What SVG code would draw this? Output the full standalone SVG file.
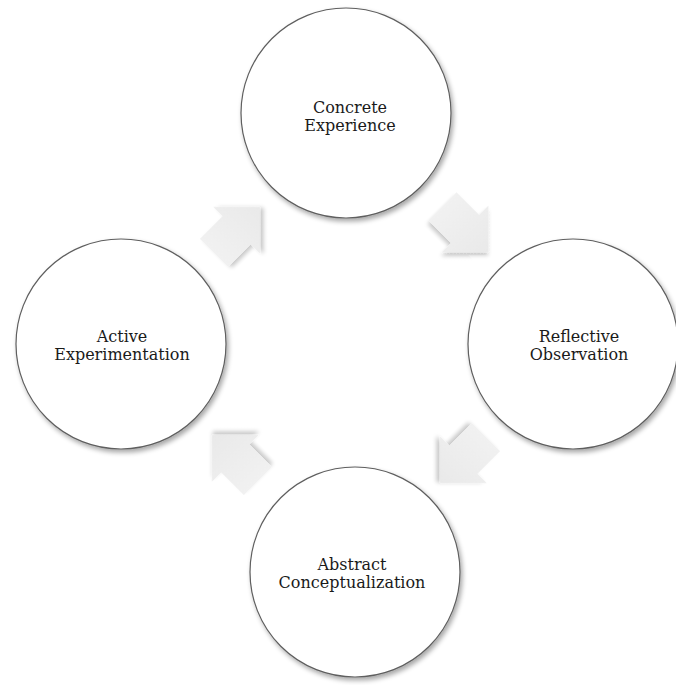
<svg xmlns="http://www.w3.org/2000/svg" width="676" height="685" viewBox="0 0 676 685">
<style>
.node circle{fill:#ffffff;stroke:#5e5e5e;stroke-width:1.2;filter:url(#sh)}
.node text{font-family:"DejaVu Serif","Liberation Serif",serif;font-size:16px;fill:#1a1a1a;text-anchor:middle}
.arr{fill:url(#ag);filter:url(#ash)}
</style>
<defs>
<filter id="sh" x="-20%" y="-20%" width="140%" height="140%">
<feGaussianBlur in="SourceAlpha" stdDeviation="2.5"/>
<feOffset dx="2" dy="3" result="b"/>
<feComponentTransfer><feFuncA type="linear" slope="0.35"/></feComponentTransfer>
<feMerge><feMergeNode/><feMergeNode in="SourceGraphic"/></feMerge>
</filter>
<filter id="ash" x="-30%" y="-30%" width="160%" height="160%">
<feGaussianBlur in="SourceAlpha" stdDeviation="2"/>
<feOffset dx="1.5" dy="2.5" result="b"/>
<feComponentTransfer><feFuncA type="linear" slope="0.22"/></feComponentTransfer>
<feMerge><feMergeNode/><feMergeNode in="SourceGraphic"/></feMerge>
</filter>
<linearGradient id="ag" x1="0" y1="0" x2="1" y2="0">
<stop offset="0" stop-color="#f1f1f1"/>
<stop offset="1" stop-color="#e9e9e9"/>
</linearGradient>
<path id="arrow" d="M-32,-20 L0,-20 L0,-33 L33,0 L0,33 L0,20 L-32,20 Z"/>
</defs>
<rect width="676" height="685" fill="#ffffff"/>
<g id="connectors">
<use href="#arrow" class="arr" transform="translate(236.7,230.3) rotate(-45)"/>
<use href="#arrow" class="arr" transform="translate(465,229) rotate(45)"/>
<use href="#arrow" class="arr" transform="translate(463.3,459.7) rotate(135)"/>
<use href="#arrow" class="arr" transform="translate(235.3,458.3) rotate(225)"/>
</g>
<g id="concrete" class="node">
<circle cx="346" cy="113" r="105"/>
<text x="350" y="113">Concrete</text>
<text x="350" y="131">Experience</text>
</g>
<g id="reflective" class="node">
<circle cx="573" cy="344" r="105"/>
<text x="579" y="342">Reflective</text>
<text x="579" y="360">Observation</text>
</g>
<g id="abstract" class="node">
<circle cx="355" cy="572" r="105"/>
<text x="352" y="570">Abstract</text>
<text x="352" y="588">Conceptualization</text>
</g>
<g id="active" class="node">
<circle cx="121" cy="344" r="105"/>
<text x="122" y="342">Active</text>
<text x="122" y="360">Experimentation</text>
</g>
</svg>
